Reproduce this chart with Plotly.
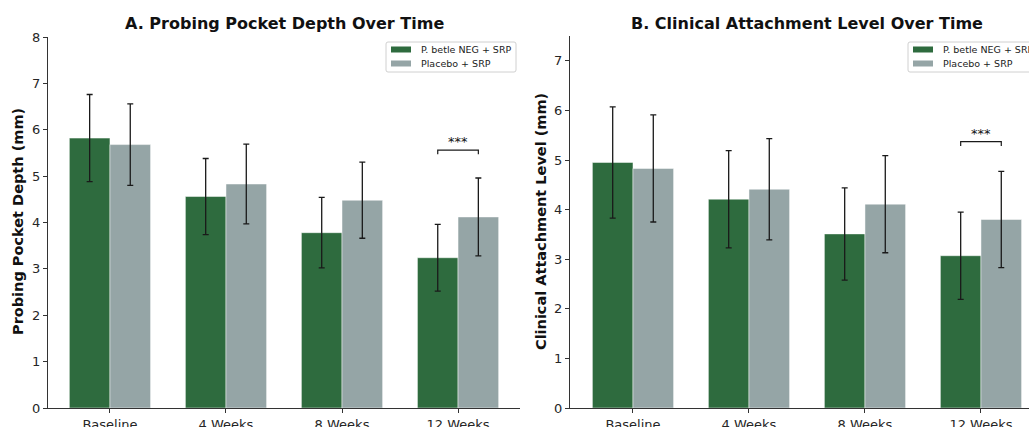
import plotly.graph_objects as go

# ---------------- data ----------------
timepoints = ["Baseline", "4 Weeks", "8 Weeks", "12 Weeks"]
series_names = ["P. betle NEG + SRP", "Placebo + SRP"]

ppd_neg_mean = [5.82, 4.56, 3.78, 3.24]
ppd_neg_sd = [0.94, 0.82, 0.76, 0.72]
ppd_pla_mean = [5.68, 4.83, 4.48, 4.12]
ppd_pla_sd = [0.88, 0.86, 0.82, 0.84]

cal_neg_mean = [4.95, 4.21, 3.51, 3.07]
cal_neg_sd = [1.12, 0.98, 0.93, 0.88]
cal_pla_mean = [4.83, 4.41, 4.11, 3.80]
cal_pla_sd = [1.08, 1.02, 0.98, 0.97]

sig_label = "***"

# ---------------- style ----------------
W, H = 1029, 427
GREEN = "#2e6b3e"
GRAY = "#95a5a6"
COLORS = [GREEN, GRAY]
FONT = "DejaVu Sans"
AX_COLOR = "#333333"
BOTTOM_M = 19
PLOT_H = H - BOTTOM_M

def px_x(p):
    return p / W

def px_y(p):
    return (PLOT_H - p) / PLOT_H

fig = go.Figure()

def add_pair(xa, ya, neg_m, neg_s, pla_m, pla_s):
    for name, m, s, c in [(series_names[0], neg_m, neg_s, COLORS[0]),
                          (series_names[1], pla_m, pla_s, COLORS[1])]:
        fig.add_trace(go.Bar(
            x=timepoints, y=m, name=name, xaxis=xa, yaxis=ya, showlegend=False,
            marker=dict(color=c, line=dict(color="rgba(255,255,255,0.6)", width=0.8)),
            error_y=dict(type="data", array=s, visible=True, color="#1a1a1a",
                         thickness=1.3, width=3),
        ))

add_pair("x", "y", ppd_neg_mean, ppd_neg_sd, ppd_pla_mean, ppd_pla_sd)
add_pair("x2", "y2", cal_neg_mean, cal_neg_sd, cal_pla_mean, cal_pla_sd)

# significance brackets
def add_bracket(xref, yref, neg_m, neg_s, pla_m, pla_s):
    i = len(timepoints) - 1
    top = max(neg_m[i] + neg_s[i], pla_m[i] + pla_s[i])
    yb = top + 0.6
    x0, x1 = i - 0.175, i + 0.175
    fig.add_shape(type="path", xref=xref, yref=yref,
                  path=f"M {x0},{yb-0.09} L {x0},{yb} L {x1},{yb} L {x1},{yb-0.09}",
                  line=dict(color="#1a1a1a", width=1.2))
    fig.add_annotation(x=i, y=yb, xref=xref, yref=yref, text=sig_label,
                       showarrow=False, yanchor="bottom", yshift=-1,
                       font=dict(family=FONT, size=13, color="#111"))

add_bracket("x", "y", ppd_neg_mean, ppd_neg_sd, ppd_pla_mean, ppd_pla_sd)
add_bracket("x2", "y2", cal_neg_mean, cal_neg_sd, cal_pla_mean, cal_pla_sd)

# legends (matplotlib-like boxes)
def add_legend(box_left, box_right):
    top, bottom = 42, 72
    r = 2
    fig.add_shape(type="path", xref="paper", yref="paper",
                  path=(f"M {px_x(box_left + r)},{px_y(top)} L {px_x(box_right - r)},{px_y(top)} "
                        f"Q {px_x(box_right)},{px_y(top)} {px_x(box_right)},{px_y(top + r)} "
                        f"L {px_x(box_right)},{px_y(bottom - r)} "
                        f"Q {px_x(box_right)},{px_y(bottom)} {px_x(box_right - r)},{px_y(bottom)} "
                        f"L {px_x(box_left + r)},{px_y(bottom)} "
                        f"Q {px_x(box_left)},{px_y(bottom)} {px_x(box_left)},{px_y(bottom - r)} "
                        f"L {px_x(box_left)},{px_y(top + r)} "
                        f"Q {px_x(box_left)},{px_y(top)} {px_x(box_left + r)},{px_y(top)} Z"),
                  fillcolor="rgba(255,255,255,0.85)", line=dict(color="#d0d0d0", width=1))
    for k, (name, c) in enumerate(zip(series_names, COLORS)):
        cy = 49.5 + k * 14
        sx = box_left + 5
        fig.add_shape(type="rect", xref="paper", yref="paper",
                      x0=px_x(sx), x1=px_x(sx + 20), y0=px_y(cy - 3), y1=px_y(cy + 3),
                      fillcolor=c, line=dict(width=0))
        fig.add_annotation(x=px_x(sx + 28), y=px_y(cy), xref="paper", yref="paper",
                           text=name, showarrow=False, xanchor="left", yanchor="middle",
                           font=dict(family=FONT, size=9.5, color="#222"))

add_legend(386, 516)
add_legend(908, 1045)

axis_common = dict(showline=True, linecolor=AX_COLOR, linewidth=1.2, ticks="outside",
                   ticklen=4, tickcolor=AX_COLOR, tickwidth=1,
                   tickfont=dict(family=FONT, size=13, color="#262626"),
                   showgrid=False, zeroline=False, mirror=False)

fig.update_layout(
    width=W, height=H,
    margin=dict(l=0, r=0, t=0, b=BOTTOM_M, autoexpand=False),
    paper_bgcolor="white", plot_bgcolor="white",
    barmode="group", bargap=0.3, bargroupgap=0,
    showlegend=False,
    xaxis=dict(domain=[px_x(48), px_x(520)], range=[-0.534, 3.534], anchor="y", **axis_common),
    yaxis=dict(domain=[0, px_y(37)], range=[0, 8], dtick=1, anchor="x", **axis_common),
    xaxis2=dict(domain=[px_x(570), 1.0], range=[-0.543, 3.414], anchor="y2", **axis_common),
    yaxis2=dict(domain=[0, px_y(36)], range=[0, 7.5], dtick=1, anchor="x2", **axis_common),
)

# titles
fig.add_annotation(x=px_x(284), y=px_y(23), xref="paper", yref="paper",
                   text="<b>A. Probing Pocket Depth Over Time</b>", showarrow=False,
                   xanchor="center", yanchor="middle",
                   font=dict(family=FONT, size=16, color="#111"))
fig.add_annotation(x=px_x(807), y=px_y(23), xref="paper", yref="paper",
                   text="<b>B. Clinical Attachment Level Over Time</b>", showarrow=False,
                   xanchor="center", yanchor="middle",
                   font=dict(family=FONT, size=16, color="#111"))
# y-axis titles
fig.add_annotation(x=px_x(18), y=px_y(222), xref="paper", yref="paper",
                   text="<b>Probing Pocket Depth (mm)</b>", showarrow=False, textangle=-90,
                   xanchor="center", yanchor="middle",
                   font=dict(family=FONT, size=14.5, color="#111"))
fig.add_annotation(x=px_x(541), y=px_y(222), xref="paper", yref="paper",
                   text="<b>Clinical Attachment Level (mm)</b>", showarrow=False, textangle=-90,
                   xanchor="center", yanchor="middle",
                   font=dict(family=FONT, size=14.5, color="#111"))

fig.write_html("out.html")
